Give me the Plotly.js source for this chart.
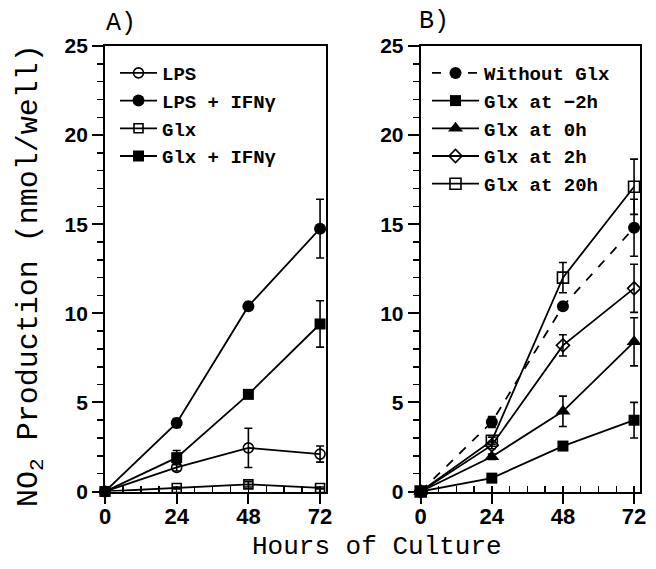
<!DOCTYPE html>
<html>
<head>
<meta charset="utf-8">
<script src="https://cdn.plot.ly/plotly-3.0.1.min.js"></script>
<style>html,body{margin:0;padding:0;background:#fff;}#chart{width:656px;height:569px;}</style>
</head>
<body>
<div id="chart"></div>
<script>
// ---- data ----
const hours = [0, 24, 48, 72];
const hourTicks = [0, 24, 48, 72];

// Panel A
const lps        = [0, 1.35, 2.45, 2.1];
const lpsErr     = [0, 0.2, 1.1, 0.45];
const lpsIfn     = [0, 3.85, 10.4, 14.75];
const lpsIfnErr  = [0, 0.25, 0.15, 1.65];
const glx        = [0, 0.2, 0.4, 0.2];
const glxErr     = [0, 0.05, 0.15, 0.05];
const glxIfn     = [0, 1.9, 5.45, 9.4];
const glxIfnErr  = [0, 0.4, 0.1, 1.3];

// Panel B
const withoutGlx    = [0, 3.9, 10.4, 14.8];
const withoutGlxErr = [0, 0.3, 0.2, 1.6];
const glxM2         = [0, 0.75, 2.55, 4.0];
const glxM2Err      = [0, 0.1, 0.2, 1.0];
const glx0          = [0, 1.95, 4.5, 8.4];
const glx0Err       = [0, 0.15, 0.85, 1.35];
const glx2          = [0, 2.6, 8.2, 11.4];
const glx2Err       = [0, 0.2, 0.6, 1.35];
const glx20         = [0, 2.85, 12.0, 17.1];
const glx20Err      = [0, 0.2, 0.85, 1.55];

const namesA = ['LPS', 'LPS + IFNγ', 'Glx', 'Glx + IFNγ'];
const namesB = ['Without Glx', 'Glx at −2h', 'Glx at 0h', 'Glx at 2h', 'Glx at 20h'];

// ---- styling helpers ----
function tr(y, err, name, symbol, size, xa, ya, legend, dash) {
  const open = symbol.indexOf('open') >= 0;
  return {
    x: hours, y: y, name: name, type: 'scatter', mode: 'lines+markers',
    xaxis: xa, yaxis: ya, legend: legend, cliponaxis: false,
    line: {color: '#000', width: 1.8, dash: dash || 'solid'},
    marker: {symbol: symbol, size: size, color: '#000',
             line: {color: '#000', width: open ? 1.6 : 0}},
    error_y: {type: 'data', array: err, visible: true, color: '#000',
              thickness: 1.6, width: 4}
  };
}

const data = [
  tr(lps,    lpsErr,    namesA[0], 'circle-open', 10, 'x', 'y', 'legend'),
  tr(lpsIfn, lpsIfnErr, namesA[1], 'circle', 12, 'x', 'y', 'legend'),
  tr(glx,    glxErr,    namesA[2], 'square-open', 9, 'x', 'y', 'legend'),
  tr(glxIfn, glxIfnErr, namesA[3], 'square', 11, 'x', 'y', 'legend'),
  tr(withoutGlx, withoutGlxErr, namesB[0], 'circle', 12, 'x2', 'y2', 'legend2', 'dash'),
  tr(glxM2, glxM2Err, namesB[1], 'square', 11, 'x2', 'y2', 'legend2'),
  tr(glx0,  glx0Err,  namesB[2], 'triangle-up', 13, 'x2', 'y2', 'legend2'),
  tr(glx2,  glx2Err,  namesB[3], 'diamond-open', 10, 'x2', 'y2', 'legend2'),
  tr(glx20, glx20Err, namesB[4], 'square-open', 11, 'x2', 'y2', 'legend2')
];

const tickFontX = {family: 'Liberation Sans, Arial, sans-serif', size: 22, color: '#000', weight: 'bold'};
const tickFontY = {family: 'Liberation Sans, Arial, sans-serif', size: 21, color: '#000', weight: 'bold'};
const mono = 'Liberation Mono, Courier New, monospace';

function xax(domain, anchor) {
  return {domain: domain, anchor: anchor, range: [0, 74], tickvals: hourTicks,
    ticks: 'outside', ticklen: 10, tickwidth: 2, tickcolor: '#000', ticklabelstandoff: -6,
    showline: true, linewidth: 2, linecolor: '#000', mirror: true,
    showgrid: false, zeroline: false, tickfont: tickFontX, fixedrange: true,
    minor: {ticks: 'inside', dtick: 6, tick0: 0, ticklen: 6, tickwidth: 1.5, tickcolor: '#000', showgrid: false}};
}
function yax(domain, anchor) {
  return {domain: domain, anchor: anchor, range: [0, 25], dtick: 5, tick0: 0,
    ticks: 'outside', ticklen: 11, tickwidth: 2, tickcolor: '#000',
    showline: true, linewidth: 2, linecolor: '#000', mirror: true,
    showgrid: false, zeroline: false, tickfont: tickFontY, fixedrange: true,
    minor: {ticks: 'outside', dtick: 1, tick0: 0, ticklen: 6, tickwidth: 1.5, tickcolor: '#000', showgrid: false}};
}

const yDom = [0.1362, 0.9192];
const layout = {
  width: 656, height: 569,
  margin: {l: 0, r: 0, t: 0, b: 0},
  paper_bgcolor: '#fff', plot_bgcolor: '#fff',
  showlegend: true,
  xaxis: xax([0.1601, 0.4970], 'y'),
  yaxis: yax(yDom, 'x'),
  xaxis2: xax([0.6413, 0.9756], 'y2'),
  yaxis2: yax(yDom, 'x2'),
  legend: {x: 115/656, y: 0.905, xanchor: 'left', yanchor: 'top', bgcolor: 'rgba(0,0,0,0)',
           font: {family: mono, size: 19, color: '#000', weight: 'bold'}, itemwidth: 37, tracegroupgap: 0},
  legend2: {x: 427/656, y: 0.905, xanchor: 'left', yanchor: 'top', bgcolor: 'rgba(0,0,0,0)',
           font: {family: mono, size: 19, color: '#000', weight: 'bold'}, itemwidth: 47, tracegroupgap: 0},
  annotations: [
    {text: 'A)', xref: 'paper', yref: 'paper', x: 121/656, y: 1 - 23/569, xanchor: 'center', yanchor: 'middle',
     showarrow: false, font: {family: mono, size: 25, color: '#000'}},
    {text: 'B)', xref: 'paper', yref: 'paper', x: 434/656, y: 1 - 22/569, xanchor: 'center', yanchor: 'middle',
     showarrow: false, font: {family: mono, size: 25, color: '#000'}},
    {text: 'Hours of Culture', xref: 'paper', yref: 'paper', x: 377/656, y: 1 - 547/569, xanchor: 'center', yanchor: 'middle',
     showarrow: false, font: {family: mono, size: 26, color: '#000'}},
    {text: 'NO<sub>2</sub> Production (nmol/well)', xref: 'paper', yref: 'paper', x: 30/656, y: 1 - 276/569,
     xanchor: 'center', yanchor: 'middle', textangle: -90,
     showarrow: false, font: {family: mono, size: 30, color: '#000'}}
  ]
};

Plotly.newPlot('chart', data, layout, {displayModeBar: false, staticPlot: true});
</script>
</body>
</html>
